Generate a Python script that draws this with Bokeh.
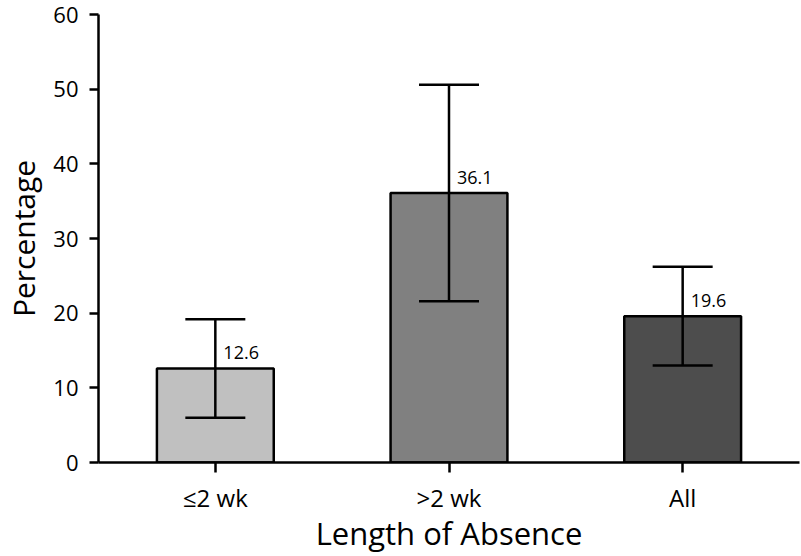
from bokeh.plotting import figure
from bokeh.models import ColumnDataSource, Range1d, FactorRange, Whisker, TeeHead, SingleIntervalTicker
from bokeh.embed import file_html
from bokeh.resources import INLINE
from bokeh.core.properties import value

categories = ["≤2 wk", ">2 wk", "All"]
percent = [12.6, 36.1, 19.6]
ci_lower = [6.0, 21.6, 13.0]
ci_upper = [19.2, 50.6, 26.2]
bar_colors = ["#c0c0c0", "#808080", "#4d4d4d"]
value_labels = [f"{v:.1f}" for v in percent]

FONT = "Open Sans"

src = ColumnDataSource(dict(cat=categories, pct=percent, lo=ci_lower, hi=ci_upper,
                            color=bar_colors, lab=value_labels))

p = figure(x_range=FactorRange(factors=categories, range_padding=0),
           y_range=Range1d(0, 60),
           width=801, height=556, output_backend="svg", toolbar_location=None,
           min_border_left=97, min_border_right=2, min_border_top=14, min_border_bottom=94)
p.outline_line_color = None
p.xgrid.grid_line_color = None
p.ygrid.grid_line_color = None
p.background_fill_color = "white"
p.border_fill_color = "white"

p.vbar(x="cat", top="pct", width=0.5, bottom=0, source=src, fill_color="color",
       line_color="black", line_width=2.5)

w = Whisker(source=src, base="cat", lower="lo", upper="hi", line_color="black", line_width=2.5,
            upper_head=TeeHead(size=60, line_width=2.5, line_color="black"),
            lower_head=TeeHead(size=60, line_width=2.5, line_color="black"),
            level="overlay")
p.add_layout(w)

p.text(x="cat", y="pct", text="lab", source=src, x_offset=8, y_offset=-9,
       text_align="left", text_baseline="bottom", text_font=value(FONT),
       text_font_size="18px", text_color="black")

# y axis
p.yaxis.ticker = SingleIntervalTicker(interval=10)
p.yaxis.axis_label = "Percentage"
p.yaxis.minor_tick_line_color = None
p.yaxis.major_tick_out = 9
p.yaxis.major_tick_in = 0
p.yaxis.major_tick_line_width = 2.5
p.yaxis.axis_line_width = 2.5
p.yaxis.major_label_text_font = FONT
p.yaxis.major_label_text_font_size = "22px"
p.yaxis.major_label_text_color = "black"
p.yaxis.major_label_standoff = 11
p.yaxis.axis_label_text_font = FONT
p.yaxis.axis_label_text_font_size = "30px"
p.yaxis.axis_label_text_font_style = "normal"
p.yaxis.axis_label_text_color = "black"
p.yaxis.axis_label_standoff = 6

# x axis
p.xaxis.axis_label = "Length of Absence"
p.xaxis.major_tick_out = 10
p.xaxis.major_tick_in = 0
p.xaxis.major_tick_line_width = 2.5
p.xaxis.axis_line_width = 2.5
p.xaxis.major_label_text_font = FONT
p.xaxis.major_label_text_font_size = "24px"
p.xaxis.major_label_text_color = "black"
p.xaxis.major_label_standoff = 8
p.xaxis.axis_label_text_font = FONT
p.xaxis.axis_label_text_font_size = "31px"
p.xaxis.axis_label_text_font_style = "normal"
p.xaxis.axis_label_text_color = "black"
p.xaxis.axis_label_standoff = -5

open("out.html", "w").write(file_html(p, INLINE))
